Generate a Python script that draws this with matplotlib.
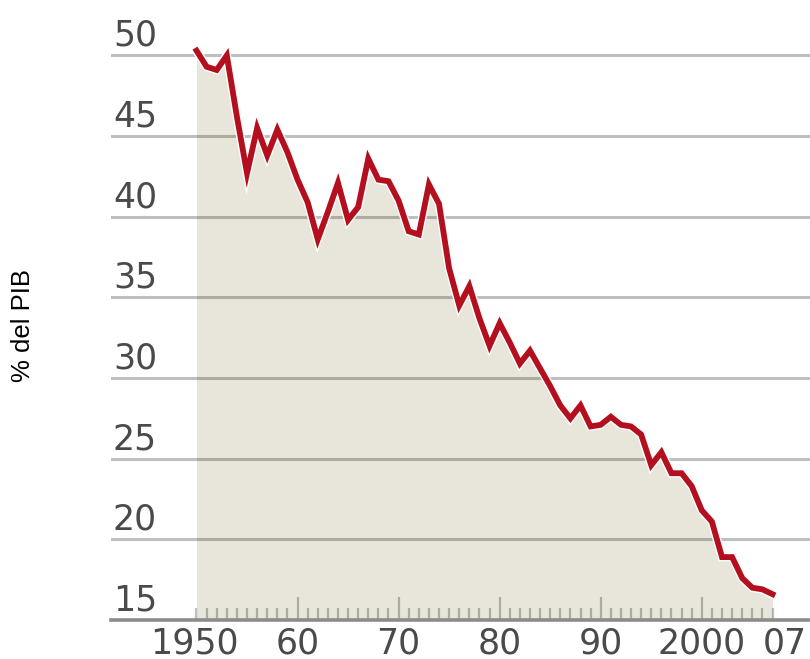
import numpy as np
import matplotlib
matplotlib.use('Agg')
from matplotlib import pyplot as plt
from matplotlib import patheffects as pe
from matplotlib.transforms import offset_copy

# deuda / gasto en % del PIB, 1950-2007
years = np.arange(1950, 2008)
pib = [50.3, 49.3, 49.1, 50.0, 46.2, 42.7, 45.5, 43.8, 45.4, 44.0,
       42.3, 40.9, 38.6, 40.3, 42.1, 39.8, 40.6, 43.6, 42.3, 42.2,
       41.0, 39.1, 38.9, 42.0, 40.8, 36.8, 34.5, 35.7, 33.7, 32.0,
       33.4, 32.2, 30.9, 31.7, 30.6, 29.5, 28.3, 27.5, 28.3, 27.0,
       27.1, 27.6, 27.1, 27.0, 26.5, 24.6, 25.4, 24.1, 24.1, 23.3,
       21.8, 21.1, 18.9, 18.9, 17.6, 17.0, 16.9, 16.6]

grid_vals = [20, 25, 30, 35, 40, 45, 50]
ylabels_vals = [15, 20, 25, 30, 35, 40, 45, 50]
major_years = [1960, 1970, 1980, 1990, 2000]
xlabel_years = [1950, 1960, 1970, 1980, 1990, 2000, 2007]
xlabel_text = ['1950', '60', '70', '80', '90', '2000', '07']

red = '#b40f1e'
beige = '#e8e5da'
txt = '#4a4a4a'

fig = plt.figure(figsize=(8.1, 6.59), dpi=100)
ax = fig.add_axes([111/810, 39/659, 699/810, 620/659])
ax.set_xlim(1941.54, 2010.71)
ax.set_ylim(15, 15 + 620/16.13)
ax.axis('off')

ax.fill_between(years, pib, 15, color=beige, lw=0, zorder=1)

for v in grid_vals:
    ax.axhline(v, color='black', alpha=0.25, lw=2.2, zorder=2)

minor_years = [y for y in years if y not in major_years]
ax.vlines(minor_years, 15, 15.75, color='black', alpha=0.25, lw=1.6, zorder=2)
ax.vlines(major_years, 15, 16.45, color='black', alpha=0.25, lw=1.6, zorder=2)
ax.axhline(15, color='#8c8c8c', lw=2.6, zorder=3, clip_on=False)

ax.plot(years, pib, color=red, lw=4.2, solid_joinstyle='miter', zorder=4,
        path_effects=[pe.Stroke(linewidth=6.2, foreground='white'), pe.Normal()])

# etiquetas eje y, encima de cada linea
ytr = offset_copy(ax.get_yaxis_transform(), fig=fig, x=0, y=9.5, units='dots')
for v in ylabels_vals:
    ax.text(46/699, v, str(v), transform=ytr, ha='right', va='baseline',
            fontsize=25, color=txt, family='DejaVu Sans')

# etiquetas eje x
for yr, lab in zip(xlabel_years, xlabel_text):
    dx = 12 if lab == '07' else (-2 if lab == '1950' else 0)
    xtr = offset_copy(ax.get_xaxis_transform(), fig=fig, x=dx, y=-33, units='dots')
    ax.text(yr, 0, lab, transform=xtr, ha='center', va='baseline',
            fontsize=25, color=txt, family='DejaVu Sans', clip_on=False)

fig.text(23/810, 1 - 325/659, '% del PIB', rotation=90, ha='center', va='center',
         fontsize=18.5, family='Liberation Sans', color='black')

fig.savefig('out.png', dpi=100)
